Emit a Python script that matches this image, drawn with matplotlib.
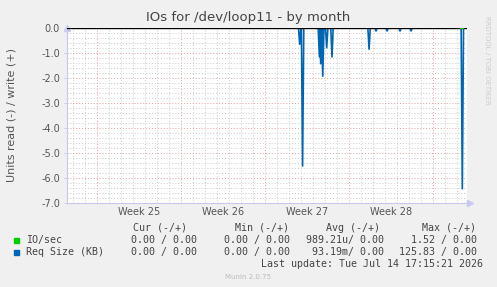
import matplotlib
matplotlib.use('agg')
import matplotlib.pyplot as plt
import numpy as np

# days since left edge of graph, and read side (negative) req size values
SPIKE_DAYS  = [19.39, 19.63, 21.03, 21.14, 21.31, 21.64, 22.08,
               25.17, 25.75, 26.67, 27.75, 28.67, 32.94]
SPIKE_VALS  = [-0.65, -5.52, -1.15, -1.43, -1.93, -0.79, -1.16,
               -0.85, -0.12, -0.12, -0.12, -0.12, -6.43]
WEEK_LINES  = [2.5, 9.5, 16.5, 23.5, 30.5]
WEEK_LABELS = ['Week 25', 'Week 26', 'Week 27', 'Week 28']
X_MAX       = 33.33

LEGEND_NAMES = ['IO/sec', 'Req Size (KB)']
LEGEND_COLORS = ['#00cc00', '#0066b3']
CUR = ['0.00 / 0.00', '0.00 / 0.00']
MIN = ['0.00 / 0.00', '0.00 / 0.00']
AVG = ['989.21u/ 0.00', '93.19m/ 0.00']
MAX = ['1.52 / 0.00', '125.83 / 0.00']

W, H = 497, 287
fig = plt.figure(figsize=(W / 100, H / 100), dpi=100, facecolor='#f0f0f0')
ax = fig.add_axes([67 / W, 1 - 203 / H, 400 / W, 175 / H])
ax.set_facecolor('white')

# build the spike curve
xs, ys = [0.0], [0.0]
for d, v in zip(SPIKE_DAYS, SPIKE_VALS):
    xs += [d - 0.1, d, d + 0.1]
    ys += [0.0, v, 0.0]
xs.append(X_MAX)
ys.append(0.0)
ax.plot(xs, ys, color='#0066b3', lw=1.2, zorder=4)

ax.axhline(0, color='black', lw=1.0, zorder=5)
ax.plot([32.8, 33.0], [0, 0], color='#00cc00', lw=1.5, zorder=6)

ax.set_xlim(0, X_MAX)
ax.set_ylim(-7, 0)

# grid
for d in np.arange(0.5, X_MAX, 1.0):
    col = '#e0a0a0' if d in WEEK_LINES else '#cccccc'
    ax.axvline(d, color=col, lw=0.7, ls=(0, (1, 2)), zorder=1)
for y in np.arange(-7, 0.01, 0.2):
    major = abs(y - round(y)) < 1e-6
    col = '#e0a0a0' if major else '#cccccc'
    ax.axhline(y, color=col, lw=0.7, ls=(0, (1, 2)), zorder=1)

for s in ['top', 'right']:
    ax.spines[s].set_visible(False)
for s in ['left', 'bottom']:
    ax.spines[s].set_color('#c8c8f0')
    ax.spines[s].set_linewidth(0.8)
ax.plot(0, 1.0, marker='^', color='#c8c8f0', ms=4, transform=ax.transAxes, clip_on=False)
ax.plot(1.007, 0, marker='>', color='#c8c8f0', ms=4, transform=ax.transAxes, clip_on=False)

ax.set_yticks(np.arange(-7, 0.5, 1.0))
ax.set_yticklabels([f'{v:.1f}' for v in np.arange(-7, 0.5, 1.0)])
ax.set_xticks([6, 13, 20, 27])
ax.set_xticklabels(WEEK_LABELS)
ax.tick_params(axis='both', labelsize=7, colors='#c8c8f0', length=2, width=0.6, pad=3)
ax.tick_params(axis='x', length=0)
for t in ax.get_yticklabels() + ax.get_xticklabels():
    t.set_color('#555555')

fig.text(248 / W, 1 - 18 / H, 'IOs for /dev/loop11 - by month', ha='center', va='center',
         fontsize=9.5, color='#444444')
fig.text(12 / W, 1 - 115 / H, 'Units read (-) / write (+)', rotation=90, ha='center',
         va='center', fontsize=8, color='#555555')
fig.text(487 / W, 1 - 60 / H, 'RRDTOOL / TOBI OETIKER', rotation=270, ha='center',
         va='center', fontsize=5, color='#cccccc')

mono = dict(family='DejaVu Sans Mono', fontsize=7.2, color='#444444', va='center')
hy = 1 - 228 / H
fig.text(187 / W, hy, 'Cur (-/+)', ha='right', **mono)
fig.text(289 / W, hy, 'Min (-/+)', ha='right', **mono)
fig.text(380 / W, hy, 'Avg (-/+)', ha='right', **mono)
fig.text(476 / W, hy, 'Max (-/+)', ha='right', **mono)
for i, name in enumerate(LEGEND_NAMES):
    y = 1 - (240 + 12 * i) / H
    fig.patches.append(plt.Rectangle((14 / W, y - 2.5 / H), 5 / W, 5 / H,
                                     transform=fig.transFigure, color=LEGEND_COLORS[i]))
    fig.text(26 / W, y, name, ha='left', **mono)
    fig.text(197 / W, y, CUR[i], ha='right', **mono)
    fig.text(290 / W, y, MIN[i], ha='right', **mono)
    fig.text(384 / W, y, AVG[i], ha='right', **mono)
    fig.text(477 / W, y, MAX[i], ha='right', **mono)
fig.text(483 / W, 1 - 264 / H, 'Last update: Tue Jul 14 17:15:21 2026', ha='right', **mono)
fig.text(248 / W, 1 - 277 / H, 'Munin 2.0.75', ha='center', va='center', fontsize=5,
         color='#bbbbbb')

fig.savefig('out.png', dpi=100, facecolor=fig.get_facecolor())
